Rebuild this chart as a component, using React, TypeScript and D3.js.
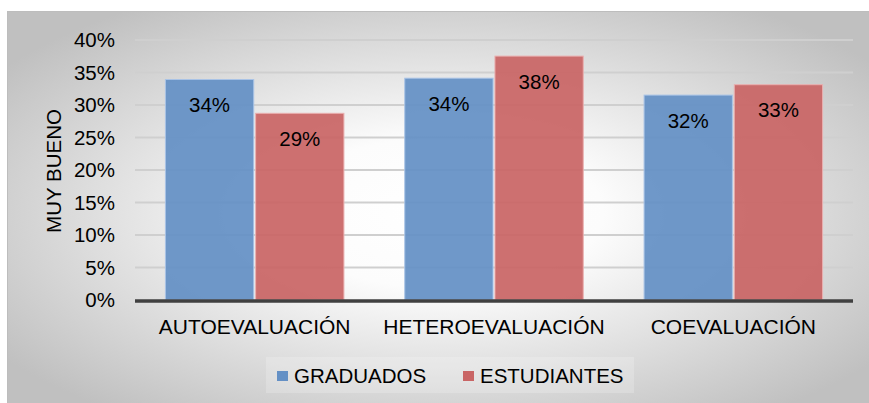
import React from "react";
import * as d3 from "d3";

const categories = ["AUTOEVALUACIÓN", "HETEROEVALUACIÓN", "COEVALUACIÓN"];
const seriesNames = ["GRADUADOS", "ESTUDIANTES"];
const graduados = [0.340, 0.342, 0.316];
const estudiantes = [0.288, 0.376, 0.332];
const yTicks = [0, 0.05, 0.1, 0.15, 0.2, 0.25, 0.3, 0.35, 0.4];
const yTitle = "MUY BUENO";

const colors = ["#6490c5", "#c96565"];
const strokes = ["#a9c3e6", "#eab0b0"];

const W = 869;
const H = 403;
const FONT = "'Liberation Sans', Arial, Helvetica, sans-serif";

export default function App() {
  const x0 = d3.scaleBand<string>().domain(categories).range([135, 853]).paddingInner(0.25).paddingOuter(0.125);
  const x1 = d3.scaleBand<string>().domain(seriesNames).range([0, x0.bandwidth()]).paddingInner(0.01);
  const y = d3.scaleLinear().domain([0, 0.4]).range([300, 40]);
  const fmt = d3.format(".0%");
  const series = [graduados, estudiantes];

  const legendX = [277, 463];

  return (
    <svg width={W} height={H} style={{ position: "absolute", left: 0, top: 0 }} fontFamily={FONT}>
      <defs>
        <radialGradient id="bg" cx="50%" cy="50%" r="62%">
          <stop offset="0" stopColor="#ffffff" />
          <stop offset="0.3" stopColor="#fcfcfc" />
          <stop offset="1" stopColor="#c0c0c0" />
        </radialGradient>
      </defs>
      <rect x={0} y={0} width={W} height={H} fill="#ffffff" />
      <rect x={7.5} y={11.5} width={W} height={H} fill="url(#bg)" stroke="#bdbdbd" strokeWidth={1} />

      {yTicks.filter((t) => t > 0).map((t) => (
        <line key={t} x1={135} x2={853} y1={y(t)} y2={y(t)} stroke="#cfcfcf" strokeWidth={2} />
      ))}

      {categories.map((c, i) => (
        <g key={c} transform={`translate(${x0(c)},0)`}>
          {seriesNames.map((s, j) => {
            const v = series[j][i];
            const bx = x1(s)!;
            const bw = x1.bandwidth();
            return (
              <g key={s}>
                <rect
                  x={bx + 0.5}
                  y={y(v) + 0.5}
                  width={bw - 1}
                  height={y(0) - y(v) - 0.5}
                  fill={colors[j]}
                  fillOpacity={0.93}
                  stroke={strokes[j]}
                  strokeWidth={1}
                />
                <text
                  x={bx + bw / 2}
                  y={y(v) + 33}
                  textAnchor="middle"
                  fontSize={20.5}
                  fill="#000"
                >
                  {fmt(v)}
                </text>
              </g>
            );
          })}
        </g>
      ))}

      <line x1={135} x2={853} y1={y(0) + 1} y2={y(0) + 1} stroke="#404040" strokeWidth={3.5} />

      {yTicks.map((t) => (
        <text key={t} x={115} y={y(t)} dy="0.36em" textAnchor="end" fontSize={20.5} fill="#000">
          {fmt(t)}
        </text>
      ))}

      <text transform={`translate(61,171) rotate(-90)`} textAnchor="middle" fontSize={20.5} fill="#000">
        {yTitle}
      </text>

      {categories.map((c) => (
        <text key={c} x={x0(c)! + x0.bandwidth() / 2} y={334} textAnchor="middle" fontSize={21} fill="#000">
          {c}
        </text>
      ))}

      <rect x={266} y={357} width={368} height={36} fill="#ffffff" fillOpacity={0.2} />
      {seriesNames.map((s, j) => (
        <g key={s}>
          <rect x={legendX[j]} y={371} width={11} height={10} fill={colors[j]} />
          <text x={legendX[j] + 17} y={383} fontSize={20.5} fill="#000">
            {s}
          </text>
        </g>
      ))}
    </svg>
  );
}
